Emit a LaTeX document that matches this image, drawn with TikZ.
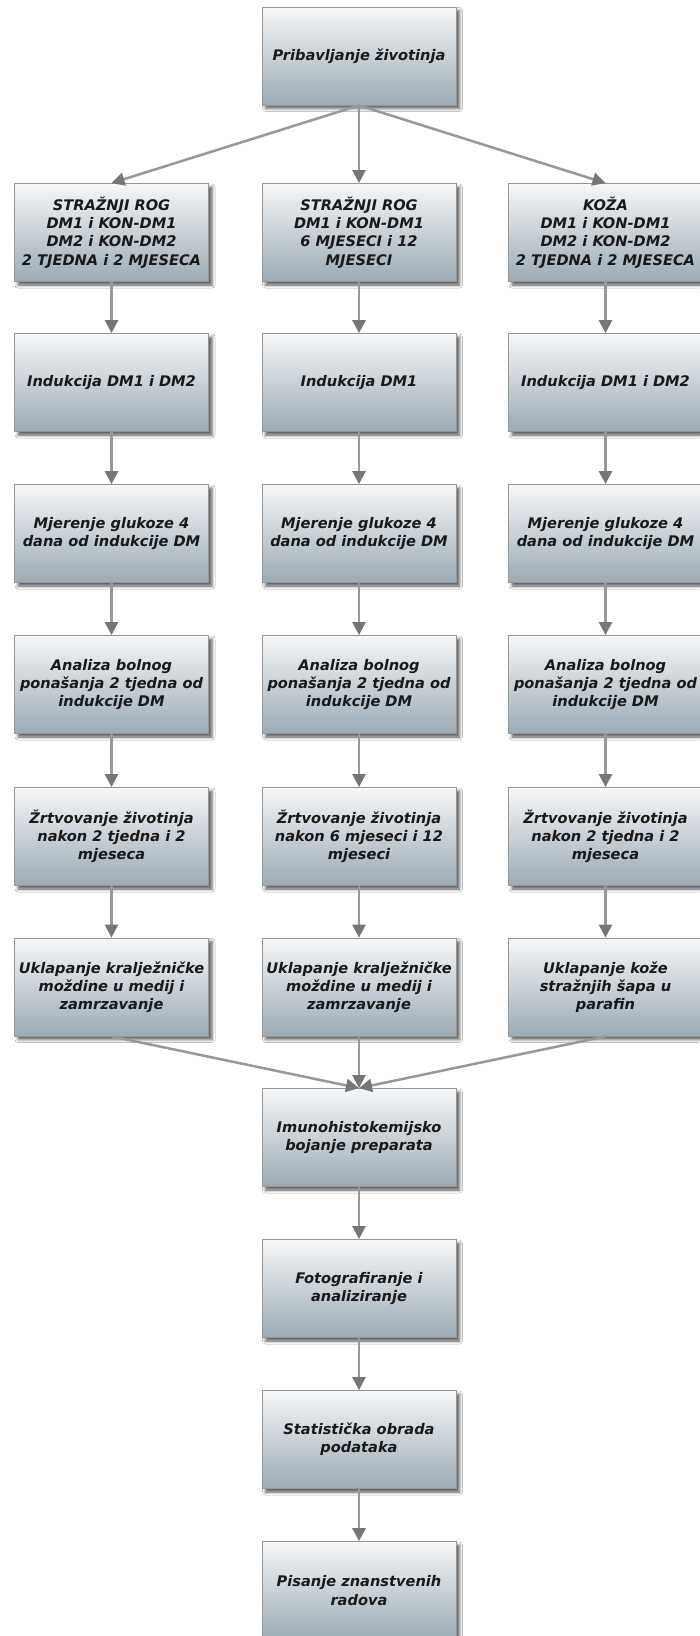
\documentclass[tikz,border=0pt]{standalone}
\usepackage{fontspec}
\setmainfont{DejaVu Sans}
\usetikzlibrary{arrows.meta,shadows.blur}
\definecolor{topc}{RGB}{246,247,248}
\definecolor{botc}{RGB}{156,170,180}
\definecolor{edgec}{RGB}{150,150,150}
\definecolor{linec}{RGB}{152,152,152}
\definecolor{tipc}{RGB}{118,118,118}
\definecolor{txtc}{RGB}{25,25,25}
\tikzset{
  box/.style={rectangle, draw=edgec, line width=0.8pt, top color=topc, bottom color=botc,
    minimum width=194pt, minimum height=98pt, inner sep=1pt, align=center,
    text=txtc, font=\fontsize{14.6}{18.2}\selectfont\bfseries\itshape,
    blur shadow={shadow xshift=3.5pt, shadow yshift=-3.5pt, shadow blur radius=3pt, shadow opacity=65}},
  flow/.style={draw=linec, line width=2.5pt, -{Triangle[width=13pt,length=13pt,color=tipc]}}
}
\begin{document}
\begin{tikzpicture}[x=1pt,y=-1pt]
\useasboundingbox (0,0) rectangle (699,1636);
\fill[white] (0,0) rectangle (699,1636);
% top
\node[box] (top) at (359,56) {Pribavljanje životinja};
% row 2
\node[box] (a2) at (111.5,232.5) {STRAŽNJI ROG\\DM1 i KON-DM1\\DM2 i KON-DM2\\2 TJEDNA i 2 MJESECA};
\node[box] (b2) at (359,232.5) {STRAŽNJI ROG\\DM1 i KON-DM1\\6 MJESECI i 12\\MJESECI};
\node[box] (c2) at (605.5,232.5) {KOŽA\\DM1 i KON-DM1\\DM2 i KON-DM2\\2 TJEDNA i 2 MJESECA};
% row 3
\node[box] (a3) at (111.5,382.5) {Indukcija DM1 i DM2};
\node[box] (b3) at (359,382.5) {Indukcija DM1};
\node[box] (c3) at (605.5,382.5) {Indukcija DM1 i DM2};
% row 4
\node[box] (a4) at (111.5,533.5) {Mjerenje glukoze 4\\dana od indukcije DM};
\node[box] (b4) at (359,533.5) {Mjerenje glukoze 4\\dana od indukcije DM};
\node[box] (c4) at (605.5,533.5) {Mjerenje glukoze 4\\dana od indukcije DM};
% row 5
\node[box] (a5) at (111.5,684.5) {Analiza bolnog\\ponašanja 2 tjedna od\\indukcije DM};
\node[box] (b5) at (359,684.5) {Analiza bolnog\\ponašanja 2 tjedna od\\indukcije DM};
\node[box] (c5) at (605.5,684.5) {Analiza bolnog\\ponašanja 2 tjedna od\\indukcije DM};
% row 6
\node[box] (a6) at (111.5,836.5) {Žrtvovanje životinja\\nakon 2 tjedna i 2\\mjeseca};
\node[box] (b6) at (359,836.5) {Žrtvovanje životinja\\nakon 6 mjeseci i 12\\mjeseci};
\node[box] (c6) at (605.5,836.5) {Žrtvovanje životinja\\nakon 2 tjedna i 2\\mjeseca};
% row 7
\node[box] (a7) at (111.5,987) {Uklapanje kralježničke\\moždine u medij i\\zamrzavanje};
\node[box] (b7) at (359,987) {Uklapanje kralježničke\\moždine u medij i\\zamrzavanje};
\node[box] (c7) at (605.5,987) {Uklapanje kože\\stražnjih šapa u\\parafin};
% bottom chain
\node[box] (d8) at (359,1137.5) {Imunohistokemijsko\\bojanje preparata};
\node[box] (d9) at (359,1288.5) {Fotografiranje i\\analiziranje};
\node[box] (d10) at (359,1439.5) {Statistička obrada\\podataka};
\node[box] (d11) at (359,1590.5) {Pisanje znanstvenih\\radova};
% connectors
\draw[flow] (top.south) -- (a2.north);
\draw[flow] (top.south) -- (b2.north);
\draw[flow] (top.south) -- (c2.north);
\foreach \c in {a,b,c}{
  \draw[flow] (\c2.south) -- (\c3.north);
  \draw[flow] (\c3.south) -- (\c4.north);
  \draw[flow] (\c4.south) -- (\c5.north);
  \draw[flow] (\c5.south) -- (\c6.north);
  \draw[flow] (\c6.south) -- (\c7.north);
  \draw[flow] (\c7.south) -- (d8.north);
}
\draw[flow] (d8.south) -- (d9.north);
\draw[flow] (d9.south) -- (d10.north);
\draw[flow] (d10.south) -- (d11.north);
\end{tikzpicture}
\end{document}
